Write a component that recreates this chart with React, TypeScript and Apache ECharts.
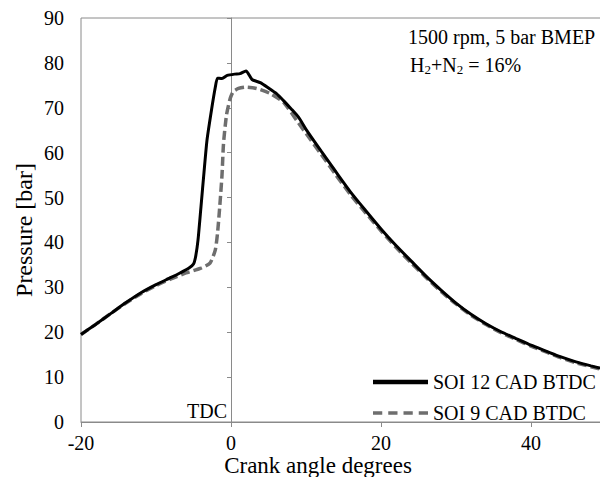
import React, { useEffect, useRef } from "react";
import * as echarts from "echarts";

const seriesNames = ["SOI 12 CAD BTDC", "SOI 9 CAD BTDC"];

const angleSoi12 = [-20, -18, -16, -14, -12, -10, -8, -6.8, -5.6, -5.0, -4.7, -4.4, -4.0, -3.6, -3.2, -2.6, -2.1, -1.8, -1.2, -0.5, 0.5, 1.2, 2.0, 2.8, 3.9, 5, 6.1, 7, 8, 9, 10, 12, 14, 16, 18, 20, 22, 24, 26, 28, 30, 32, 34, 36, 38, 40, 42, 44, 46, 48, 50];
const pressureSoi12 = [19.5, 21.8, 24.2, 26.6, 28.8, 30.6, 32.2, 33.2, 34.3, 35.2, 37, 40.5, 48, 55.6, 62.8, 69.5, 74.5, 76.6, 76.5, 77.2, 77.5, 77.6, 78.2, 76.3, 75.6, 74.4, 73.1, 71.6, 69.8, 67.9, 65.2, 60.4, 55.7, 51.1, 47.0, 43.0, 39.3, 35.9, 32.5, 29.4, 26.5, 24.0, 21.9, 20.1, 18.6, 17.1, 15.8, 14.5, 13.4, 12.5, 11.7];

const angleSoi9 = [-20, -18, -16, -14, -12, -10, -8, -6, -4.1, -2.8, -2.1, -1.8, -1.5, -1.2, -1.0, -0.6, -0.1, 0.3, 1.0, 1.9, 3.4, 5.2, 7, 9, 10, 12, 14, 16, 18, 20, 22, 24, 26, 28, 30, 32, 34, 36, 38, 40, 42, 44, 46, 48, 50];
const pressureSoi9 = [19.5, 21.8, 24.2, 26.5, 28.6, 30.4, 31.9, 33.2, 34.2, 35.4, 38.3, 42, 48, 55, 62, 68.4, 72.1, 73.6, 74.3, 74.6, 74.3, 73.2, 71.2, 66.6, 64.3, 59.7, 55.0, 50.5, 46.5, 42.6, 38.9, 35.5, 32.2, 29.1, 26.3, 23.8, 21.7, 19.9, 18.4, 16.9, 15.6, 14.3, 13.2, 12.3, 11.5];

const xRange = [-20, 50];
const yRange = [0, 90];
const xLabels = ["-20", "0", "20", "40"];
const yLabels = ["0", "10", "20", "30", "40", "50", "60", "70", "80", "90"];

const FONT = "'Liberation Serif', 'Times New Roman', serif";
const AXIS = "#8a8a8a";
const DASH_GRAY = "#6e6e6e";

export default function App() {
  const ref = useRef<HTMLDivElement>(null);
  useEffect(() => {
    if (!ref.current) return;
    const chart = echarts.init(ref.current, undefined, { renderer: "svg" });
    const pair = (xs: number[], ys: number[]) => xs.map((x, i) => [x, ys[i]]);
    chart.setOption({
      animation: false,
      backgroundColor: "#fff",
      grid: {
        left: 81,
        right: 0,
        top: 18,
        bottom: 55,
        containLabel: false,
        outerBoundsMode: "none",
        show: true,
        borderColor: AXIS,
        borderWidth: 1,
      },
      xAxis: {
        type: "value",
        min: xRange[0],
        max: xRange[1],
        interval: 20,
        axisLine: { show: true, lineStyle: { color: AXIS, width: 1 } },
        axisTick: { show: true, inside: false, length: 5, lineStyle: { color: AXIS } },
        splitLine: { show: false },
        axisLabel: {
          margin: 13,
          color: "#000",
          fontFamily: FONT,
          fontSize: 20,
          lineHeight: 15,
          showMaxLabel: false,
          formatter: (v: number) => {
            const s = String(v);
            return xLabels.includes(s) ? s : "";
          },
        },
      },
      yAxis: {
        type: "value",
        min: yRange[0],
        max: yRange[1],
        interval: 10,
        position: "left",
        axisLine: { show: true, onZero: true, lineStyle: { color: AXIS, width: 1 } },
        axisTick: { show: true, inside: false, length: 4, lineStyle: { color: AXIS } },
        splitLine: { show: false },
        axisLabel: {
          margin: 17,
          color: "#000",
          fontFamily: FONT,
          fontSize: 20,
          formatter: (v: number) => {
            const s = String(v);
            return yLabels.includes(s) ? s : "";
          },
        },
      },
      legend: {
        orient: "vertical",
        left: 373,
        top: 372,
        padding: 0,
        itemWidth: 55,
        itemHeight: 10,
        itemGap: 11,
        textStyle: { color: "#000", fontFamily: FONT, fontSize: 20 },
        data: [
          { name: seriesNames[0], icon: "path://M0,0L55,0L55,4.5L0,4.5Z", itemStyle: { color: "#000" } },
          {
            name: seriesNames[1],
            icon: "path://M0,0h9.25v3.5h-9.25Z M15.25,0h9.25v3.5h-9.25Z M30.5,0h9.25v3.5h-9.25Z M45.75,0h9.25v3.5h-9.25Z",
            itemStyle: { color: DASH_GRAY },
          },
        ],
      },
      series: [
        {
          name: seriesNames[0],
          type: "line",
          data: pair(angleSoi12, pressureSoi12),
          showSymbol: false,
          symbol: "none",
          smooth: 0.2,
          z: 3,
          lineStyle: { color: "#000", width: 3 },
          itemStyle: { color: "#000" },
        },
        {
          name: seriesNames[1],
          type: "line",
          data: pair(angleSoi9, pressureSoi9),
          showSymbol: false,
          symbol: "none",
          smooth: 0.2,
          z: 2,
          lineStyle: { color: DASH_GRAY, width: 3.5, type: [9, 4] },
          itemStyle: { color: DASH_GRAY },
        },
      ],
      graphic: [
        {
          type: "text",
          left: 408,
          top: 27,
          style: { text: "1500 rpm, 5 bar BMEP", fill: "#000", font: `20px ${FONT}` },
        },
        {
          type: "text",
          left: 410,
          top: 55,
          style: {
            text: "H{sub|2}+N{sub|2} = 16%",
            fill: "#000",
            font: `20px ${FONT}`,
            rich: {
              sub: { fontSize: 13, fontFamily: FONT, fill: "#000", padding: [9, 0, 0, 0] },
            },
          },
        },
        {
          type: "text",
          x: 227,
          y: 411,
          style: { text: "TDC", fill: "#000", font: `20px ${FONT}`, align: "right", verticalAlign: "middle" },
        },
        {
          type: "text",
          x: 318,
          y: 465,
          style: {
            text: "Crank angle degrees",
            fill: "#000",
            font: `23px ${FONT}`,
            lineHeight: 20,
            align: "center",
            verticalAlign: "middle",
          },
        },
        {
          type: "text",
          x: 24,
          y: 230,
          rotation: Math.PI / 2,
          style: {
            text: "Pressure [bar]",
            fill: "#000",
            font: `24px ${FONT}`,
            align: "center",
            verticalAlign: "middle",
          },
        },
      ],
    });
    return () => chart.dispose();
  }, []);
  return (
    <div style={{ position: "absolute", left: 0, top: 0, width: 600, height: 477, overflow: "hidden", background: "#fff" }}>
      <div ref={ref} style={{ width: 606, height: 477 }} />
    </div>
  );
}
